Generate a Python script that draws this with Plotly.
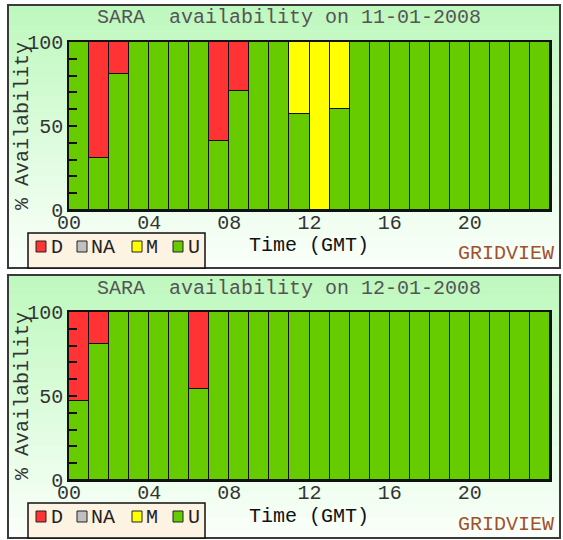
import plotly.graph_objects as go

# ---------------- data ----------------
hours = list(range(24))
hour_tick_vals = [0, 4, 8, 12, 16, 20]
hour_tick_text = ["00", "04", "08", "12", "16", "20"]
y_tick_vals = [0, 50, 100]
y_tick_text = ["0", "50", "100"]
dates = ["11-01-2008", "12-01-2008"]
states = ["D", "NA", "M", "U"]
state_colors = ["#ff3333", "#c0c0c0", "#ffff00", "#66cc00"]

day1_U = [100, 31, 81, 100, 100, 100, 100, 41, 71, 100, 100, 57, 0, 60,
          100, 100, 100, 100, 100, 100, 100, 100, 100, 100]
day1_M = [0, 0, 0, 0, 0, 0, 0, 0, 0, 0, 0, 43, 100, 40,
          0, 0, 0, 0, 0, 0, 0, 0, 0, 0]
day1_D = [0, 69, 19, 0, 0, 0, 0, 59, 29, 0, 0, 0, 0, 0,
          0, 0, 0, 0, 0, 0, 0, 0, 0, 0]
day1_NA = [0, 0, 0, 0, 0, 0, 0, 0, 0, 0, 0, 0, 0, 0,
           0, 0, 0, 0, 0, 0, 0, 0, 0, 0]

day2_U = [47, 81, 100, 100, 100, 100, 54, 100, 100, 100, 100, 100, 100, 100,
          100, 100, 100, 100, 100, 100, 100, 100, 100, 100]
day2_M = [0, 0, 0, 0, 0, 0, 0, 0, 0, 0, 0, 0, 0, 0,
          0, 0, 0, 0, 0, 0, 0, 0, 0, 0]
day2_D = [53, 19, 0, 0, 0, 0, 46, 0, 0, 0, 0, 0, 0, 0,
          0, 0, 0, 0, 0, 0, 0, 0, 0, 0]
day2_NA = [0, 0, 0, 0, 0, 0, 0, 0, 0, 0, 0, 0, 0, 0,
           0, 0, 0, 0, 0, 0, 0, 0, 0, 0]

days = [
    {"U": day1_U, "M": day1_M, "D": day1_D, "NA": day1_NA},
    {"U": day2_U, "M": day2_M, "D": day2_D, "NA": day2_NA},
]

# ---------------- layout helpers ----------------
W, H = 563, 540
FONT = "Liberation Mono"
FS = 20


def px(x):
    return x / W


def py(y):
    return 1 - y / H


color_of = dict(zip(states, state_colors))
stack_order = ["U", "M", "D", "NA"]

fig = go.Figure()
shapes = []
annotations = []
layout_axes = {}

for i, day in enumerate(days):
    off = 270 * i
    xa = "x" if i == 0 else "x2"
    ya = "y" if i == 0 else "y2"
    for s in stack_order:
        fig.add_trace(go.Bar(
            x=hours, y=day[s], name=s, xaxis=xa, yaxis=ya,
            offset=0, width=1,
            marker=dict(color=color_of[s], line=dict(color="#111111", width=1.5)),
            showlegend=False, hoverinfo="x+y+name",
        ))

    # panel background gradient
    top, bot = 5 + off, 268 + off
    n = 40
    c0, c1 = (190, 248, 190), (250, 255, 250)
    for k in range(n):
        t = k / (n - 1)
        c = tuple(int(round(c0[j] + (c1[j] - c0[j]) * t)) for j in range(3))
        y0 = top + (bot - top) * k / n
        y1 = top + (bot - top) * (k + 1) / n
        shapes.append(dict(type="rect", xref="paper", yref="paper",
                           x0=px(8), x1=px(560), y0=py(y0), y1=py(y1 + 0.5),
                           fillcolor="rgb(%d,%d,%d)" % c, line=dict(width=0),
                           layer="below"))
    shapes.append(dict(type="rect", xref="paper", yref="paper",
                       x0=px(8), x1=px(560), y0=py(top), y1=py(bot),
                       fillcolor="rgba(0,0,0,0)",
                       line=dict(color="#3a3a3a", width=2), layer="below"))

    # legend box
    shapes.append(dict(type="rect", xref="paper", yref="paper",
                       x0=px(28), x1=px(205), y0=py(233 + off), y1=py(268 + off),
                       fillcolor="#fdf3e3", line=dict(color="#111111", width=1.5),
                       layer="above"))
    sw_x = [36, 77, 132, 173]
    lab_x = [49, 89, 144, 186]
    for s, c, sx, lx in zip(states, state_colors, sw_x, lab_x):
        shapes.append(dict(type="rect", xref="paper", yref="paper",
                           x0=px(sx), x1=px(sx + 10), y0=py(241 + off), y1=py(252 + off),
                           fillcolor=c, line=dict(color="#222222", width=1),
                           layer="above"))
        annotations.append(dict(x=px(lx), y=py(247 + off), xref="paper", yref="paper",
                                text=s, showarrow=False, xanchor="left", yanchor="middle",
                                font=dict(family=FONT, size=FS, color="#222222")))

    annotations.append(dict(x=px(289), y=py(18 + off), xref="paper", yref="paper",
                            text="SARA\u00a0\u00a0availability on " + dates[i],
                            showarrow=False, xanchor="center", yanchor="middle",
                            font=dict(family=FONT, size=FS, color="#555555")))
    annotations.append(dict(x=px(22), y=py(126 + off), xref="paper", yref="paper",
                            text="% Availability", textangle=-90,
                            showarrow=False, xanchor="center", yanchor="middle",
                            font=dict(family=FONT, size=FS, color="#333333")))
    annotations.append(dict(x=px(309), y=py(246 + off), xref="paper", yref="paper",
                            text="Time (GMT)",
                            showarrow=False, xanchor="center", yanchor="middle",
                            font=dict(family=FONT, size=FS, color="#111111")))
    annotations.append(dict(x=px(506), y=py(254 + off), xref="paper", yref="paper",
                            text="GRIDVIEW",
                            showarrow=False, xanchor="center", yanchor="middle",
                            font=dict(family=FONT, size=FS, color="#a0522d")))

    xkey = "xaxis" if i == 0 else "xaxis2"
    ykey = "yaxis" if i == 0 else "yaxis2"
    layout_axes[xkey] = dict(
        domain=[px(69), px(550)], anchor=ya, range=[0, 24], automargin=False,
        tickvals=hour_tick_vals, ticktext=hour_tick_text, ticks="",
        ticklabelstandoff=-7,
        showgrid=False, zeroline=False, showline=True, mirror=True,
        linecolor="#111111", linewidth=1.5, fixedrange=True,
        tickfont=dict(family=FONT, size=FS, color="#333333"),
    )
    layout_axes[ykey] = dict(
        domain=[py(210 + off), py(42 + off)], anchor=xa, range=[0, 100],
        automargin=False,
        tickvals=y_tick_vals, ticktext=y_tick_text,
        ticks="inside", ticklen=8, tickcolor="#111111", tickwidth=1.5,
        minor=dict(dtick=10, tick0=0, ticks="inside", ticklen=8,
                   tickcolor="#111111", tickwidth=1.5),
        showgrid=False, zeroline=False, showline=True, mirror=True,
        linecolor="#111111", linewidth=1.5, fixedrange=True,
        tickfont=dict(family=FONT, size=FS, color="#333333"),
    )

fig.update_layout(
    width=W, height=H, margin=dict(l=0, r=0, t=0, b=0, pad=0),
    paper_bgcolor="white", plot_bgcolor="white",
    barmode="stack", bargap=0,
    shapes=shapes, annotations=annotations,
    **layout_axes,
)

fig.write_html("out.html", config={"displayModeBar": False},
               post_script="document.body.style.margin='0';")
